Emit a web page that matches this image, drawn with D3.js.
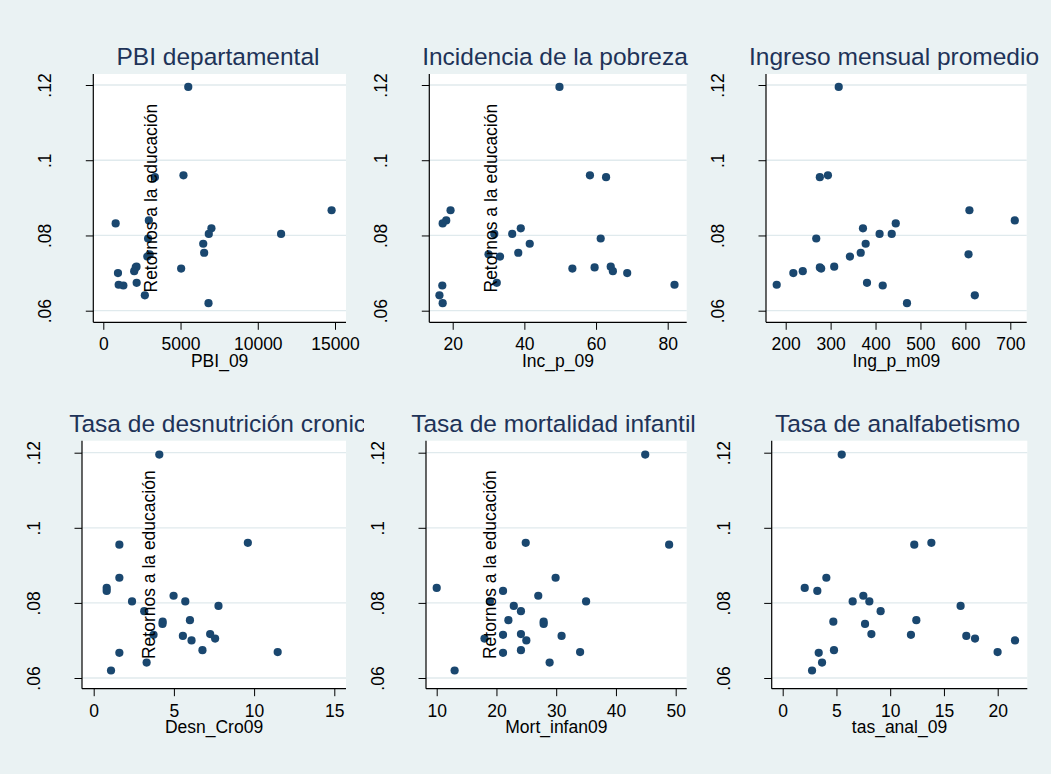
<!DOCTYPE html>
<html><head><meta charset="utf-8">
<script src="https://cdn.jsdelivr.net/npm/d3@7"></script>
<style>
body{margin:0;background:#fff}
svg{display:block}
text{font-family:"Liberation Sans",Arial,Helvetica,sans-serif}
</style>
</head><body>
<svg id="chart" width="1051" height="774"></svg>
<script>
// ---- data (one value per department, same order in every array) ----
const retornos    = [0.1195,0.0960,0.0955,0.0867,0.0840,0.0832,0.0819,0.0804,0.0804,0.0792,0.0778,0.0754,0.0750,0.0744,0.0717,0.0715,0.0712,0.0705,0.0700,0.0674,0.0669,0.0667,0.0641,0.0620];
const pbi09       = [5500,5190,3340,14780,2950,800,7000,6830,11510,2900,6470,6530,3000,2850,2150,2100,5040,2000,950,2160,995,1300,2690,6810];
const incP09      = [49.8,58.3,62.8,19.4,18.2,17.2,39.0,36.6,31.6,61.3,41.5,38.3,30.0,33.2,64.1,59.6,53.4,64.7,68.7,32.3,81.9,17.1,16.3,17.2];
const ingPM09     = [318,294,276,609,710,445,372,409,436,268,378,367,607,343,308,276,279,238,217,381,180,416,621,470];
const desnCro09   = [4.09,9.61,1.60,1.60,0.81,0.81,4.98,5.71,2.39,7.78,3.15,6.00,4.30,4.29,7.26,3.73,5.56,7.57,6.10,6.78,11.47,1.60,3.30,1.08];
const mortInfan09 = [44.9,24.9,48.9,29.9,10.0,21.1,27.0,35.0,18.9,22.9,24.1,22.0,27.9,27.9,24.1,21.1,30.9,18.0,25.0,24.1,34.0,21.1,28.9,13.0];
const tasAnal09   = [5.49,13.83,12.24,4.06,2.05,3.22,7.50,8.06,6.51,16.55,9.11,12.43,4.71,7.66,8.25,11.93,17.08,17.89,21.61,4.77,19.99,3.35,3.66,2.73];

const panelTitles = ["PBI departamental","Incidencia de la pobreza","Ingreso mensual promedio","Tasa de desnutrición cronica","Tasa de mortalidad infantil","Tasa de analfabetismo"];
const xTitles     = ["PBI_09","Inc_p_09","Ing_p_m09","Desn_Cro09","Mort_infan09","tas_anal_09"];
const xTickSets   = [[0,5000,10000,15000],[20,40,60,80],[200,300,400,500,600,700],[0,5,10,15],[10,20,30,40,50],[0,5,10,15,20]];
const yTicks      = [0.06,0.08,0.10,0.12];
const yTickLabels = [".06",".08",".1",".12"];
const yTitle      = "Retornos a la educación";
const xSeries     = [pbi09,incP09,ingPM09,desnCro09,mortInfan09,tasAnal09];

// ---- layout (pixels) ----
const layout = [
  {x0:93.3, x1:346,   y0:74,    y1:322.3, xr:[103.3,335],   yr:[310.7,85],   tcx:218,   ty:65,    showYT:true,  ytx:156.7},
  {x0:429.3,x1:686.7, y0:74,    y1:322.3, xr:[452.7,667.7], yr:[310.7,85],   tcx:555,   ty:65,    showYT:true,  ytx:496.7},
  {x0:766,  x1:1026.7,y0:74,    y1:322.3, xr:[785.7,1010.3],yr:[310.7,85],   tcx:894,   ty:65,    showYT:false, ytx:0},
  {x0:82,   x1:346,   y0:440.7, y1:688.7, xr:[93.7,334.3],  yr:[678,452.7],  tcx:224.5, ty:431.7, showYT:true,  ytx:155},
  {x0:426,  x1:686.7, y0:440.7, y1:688.7, xr:[436.7,675.7], yr:[678,452.7],  tcx:553.5, ty:431.7, showYT:true,  ytx:495.7},
  {x0:771.7,x1:1027.3,y0:440.7, y1:688.7, xr:[782.7,997.7], yr:[678,452.7],  tcx:897.5, ty:431.7, showYT:false, ytx:0}
];
const BG = "#eaf2f3", GRID = "#e0eaed", DOT = "#1a476f", TITLE = "#1e3358";

const svg = d3.select("#chart");
svg.append("rect").attr("width",1051).attr("height",774).attr("fill",BG);

const defs = svg.append("defs");
defs.append("clipPath").attr("id","clipCell1").append("rect").attr("x",0).attr("y",0).attr("width",364).attr("height",774);

const overlay = [];
layout.forEach((L,i) => {
  const g = svg.append("g");
  const x = d3.scaleLinear().domain([xTickSets[i][0], xTickSets[i][xTickSets[i].length-1]]).range(L.xr);
  const y = d3.scaleLinear().domain([0.06,0.12]).range(L.yr);

  g.append("rect").attr("x",L.x0).attr("y",L.y0).attr("width",L.x1-L.x0).attr("height",L.y1-L.y0).attr("fill","#fff");
  g.selectAll("line.grid").data(yTicks).join("line").attr("class","grid")
    .attr("x1",L.x0).attr("x2",L.x1).attr("y1",d=>y(d)).attr("y2",d=>y(d))
    .attr("stroke",GRID).attr("stroke-width",1.3);

  const pts = xSeries[i].map((v,k)=>({x:v,y:retornos[k]}));
  g.selectAll("circle").data(pts).join("circle")
    .attr("cx",d=>x(d.x)).attr("cy",d=>y(d.y)).attr("r",4.1).attr("fill",DOT);

  // y axis
  const ya = g.append("g").attr("transform",`translate(${L.x0},0)`)
    .call(d3.axisLeft(y).tickValues(yTicks).tickFormat((d,j)=>yTickLabels[j]).tickSize(7.5).tickSizeOuter(0));
  ya.select(".domain").remove();
  ya.selectAll("line").attr("stroke","#000");
  ya.selectAll("text").attr("x",null).attr("dy",null)
    .attr("transform","translate(-42,0) rotate(-90)").attr("text-anchor","middle")
    .attr("font-size",17.5).attr("fill","#000").style("font-family",'"Liberation Sans",Arial,sans-serif');
  g.append("line").attr("x1",L.x0).attr("x2",L.x0).attr("y1",L.y0).attr("y2",L.y1).attr("stroke","#000").attr("stroke-width",1.2);

  // x axis
  const xa = g.append("g").attr("transform",`translate(0,${L.y1})`)
    .call(d3.axisBottom(x).tickValues(xTickSets[i]).tickFormat(d3.format("d")).tickSize(7.5).tickSizeOuter(0));
  xa.select(".domain").remove();
  xa.selectAll("line").attr("stroke","#000");
  xa.selectAll("text").attr("y",28).attr("dy",null).attr("font-size",17.5).attr("fill","#000")
    .style("font-family",'"Liberation Sans",Arial,sans-serif');
  g.append("line").attr("x1",L.x0).attr("x2",L.x1).attr("y1",L.y1).attr("y2",L.y1).attr("stroke","#000").attr("stroke-width",1.2);

  g.append("text").attr("x",(L.x0+L.x1)/2).attr("y",L.y1+44.5).attr("text-anchor","middle")
    .attr("font-size",17.5).attr("fill","#000").text(xTitles[i]);

  const t = g.append("text").attr("x",L.tcx).attr("y",L.ty).attr("text-anchor","middle")
    .attr("font-size",24.5).attr("fill",TITLE).text(panelTitles[i]);
  if (i===3) t.attr("clip-path","url(#clipCell1)");

  if (L.showYT) overlay.push({x:L.ytx, y:(L.y0+L.y1)/2});
});

svg.selectAll("text.ytitle").data(overlay).join("text").attr("class","ytitle")
  .attr("transform",d=>`translate(${d.x},${d.y}) rotate(-90)`)
  .attr("text-anchor","middle").attr("font-size",17.5).attr("fill","#000").text(yTitle);
</script>
</body></html>
